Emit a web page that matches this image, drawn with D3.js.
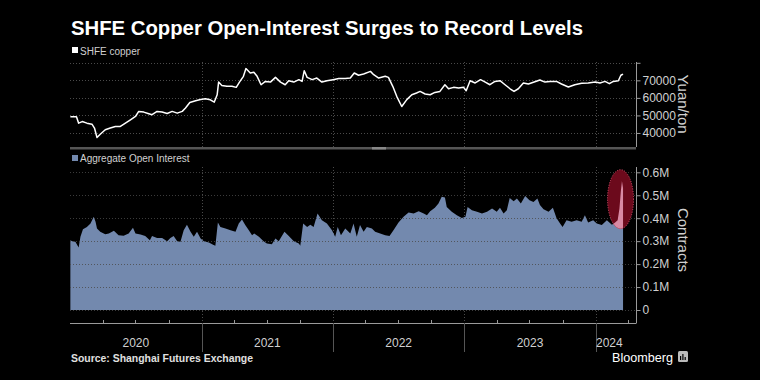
<!DOCTYPE html>
<html>
<head>
<meta charset="utf-8">
<script src="https://cdn.jsdelivr.net/npm/d3@7"></script>
<style>
  html, body { margin: 0; padding: 0; background: #000; }
  svg { display: block; }
</style>
</head>
<body>
<svg id="chart" width="760" height="380"></svg>
<script>
// ---------------- DATA ----------------
const titleText = "SHFE Copper Open-Interest Surges to Record Levels";
const sourceText = "Source: Shanghai Futures Exchange";
const copperLabel = "SHFE copper";
const oiLabel = "Aggregate Open Interest";
const copperAxisTitle = "Yuan/ton";
const oiAxisTitle = "Contracts";

const copperDates = ["2020-01-02","2020-01-19","2020-01-25","2020-02-04","2020-02-17","2020-03-02","2020-03-09","2020-03-16","2020-03-25","2020-04-08","2020-04-22","2020-05-06","2020-05-20","2020-06-03","2020-06-17","2020-07-01","2020-07-10","2020-07-24","2020-08-07","2020-08-16","2020-08-30","2020-09-13","2020-09-27","2020-10-11","2020-10-25","2020-11-08","2020-11-17","2020-11-29","2020-12-15","2020-12-29","2021-01-11","2021-01-25","2021-02-05","2021-02-13","2021-02-17","2021-02-26","2021-03-12","2021-03-26","2021-04-07","2021-04-16","2021-04-27","2021-05-04","2021-05-16","2021-05-26","2021-06-04","2021-06-15","2021-06-27","2021-07-11","2021-07-25","2021-08-08","2021-08-21","2021-08-31","2021-09-14","2021-09-28","2021-10-07","2021-10-13","2021-10-21","2021-11-04","2021-11-17","2021-12-01","2021-12-15","2022-01-01","2022-01-17","2022-02-04","2022-02-18","2022-03-01","2022-03-13","2022-03-27","2022-04-15","2022-04-24","2022-05-08","2022-05-26","2022-06-04","2022-06-16","2022-06-27","2022-07-11","2022-07-25","2022-08-08","2022-08-21","2022-08-31","2022-09-14","2022-09-28","2022-10-11","2022-10-25","2022-11-08","2022-11-18","2022-12-02","2022-12-16","2022-12-30","2023-01-06","2023-01-17","2023-01-31","2023-02-15","2023-02-28","2023-03-13","2023-03-27","2023-04-10","2023-04-24","2023-05-08","2023-05-19","2023-05-31","2023-06-14","2023-06-28","2023-07-12","2023-07-30","2023-08-13","2023-08-27","2023-09-14","2023-09-28","2023-10-17","2023-11-04","2023-11-23","2023-12-11","2023-12-31","2024-01-13","2024-01-27","2024-02-08","2024-02-19","2024-03-04","2024-03-11","2024-03-17"];
const copperValues = [49250,49250,45600,46500,45600,45000,42800,37400,39300,41800,42800,43700,43700,45600,47500,49400,52300,51900,51000,50400,52300,51900,51100,52300,51300,52300,54200,57400,58400,59100,59500,58900,57600,61800,69000,67100,66600,66600,66000,69000,72300,76700,74200,74600,72300,67500,69400,69000,71700,69000,67500,69800,69000,70400,69400,75500,71700,70400,71300,69000,69800,70400,71000,71000,71300,74200,72900,73600,75100,73200,71300,72300,71700,66600,60900,55100,59000,61800,62800,63700,62200,61800,63100,63700,67500,65200,66000,65600,66000,64100,69800,68500,70400,69000,67500,69400,69800,67500,65200,63700,65200,68500,67900,68900,70200,69000,69400,69400,67900,66200,67500,68300,68500,69000,68500,69400,68100,69400,69800,72900,73600];

const oiDates = ["2020-01-02","2020-01-07","2020-01-16","2020-01-25","2020-01-30","2020-02-06","2020-02-17","2020-02-27","2020-03-07","2020-03-12","2020-03-16","2020-03-25","2020-04-08","2020-04-18","2020-05-02","2020-05-15","2020-05-29","2020-06-12","2020-06-24","2020-07-01","2020-07-15","2020-07-28","2020-08-10","2020-08-16","2020-08-30","2020-09-13","2020-09-27","2020-10-06","2020-10-15","2020-10-25","2020-11-03","2020-11-12","2020-11-21","2020-12-01","2020-12-10","2020-12-19","2020-12-29","2021-01-07","2021-01-21","2021-02-03","2021-02-08","2021-02-15","2021-02-22","2021-03-08","2021-03-22","2021-04-05","2021-04-14","2021-04-23","2021-05-02","2021-05-12","2021-05-21","2021-05-27","2021-06-09","2021-06-22","2021-07-01","2021-07-15","2021-07-25","2021-08-03","2021-08-19","2021-08-31","2021-09-14","2021-09-28","2021-10-02","2021-10-10","2021-10-21","2021-10-30","2021-11-08","2021-11-19","2021-12-01","2021-12-15","2021-12-29","2022-01-07","2022-01-14","2022-01-23","2022-02-04","2022-02-18","2022-02-27","2022-03-08","2022-03-17","2022-03-27","2022-04-05","2022-04-19","2022-04-28","2022-05-12","2022-05-26","2022-06-07","2022-06-18","2022-07-02","2022-07-16","2022-07-30","2022-08-13","2022-08-27","2022-09-10","2022-09-19","2022-09-28","2022-10-11","2022-10-21","2022-10-30","2022-11-08","2022-11-13","2022-11-27","2022-12-11","2022-12-25","2023-01-04","2023-01-10","2023-01-22","2023-02-05","2023-02-19","2023-03-05","2023-03-19","2023-04-01","2023-04-10","2023-04-20","2023-04-29","2023-05-07","2023-05-18","2023-05-27","2023-06-07","2023-06-19","2023-07-01","2023-07-12","2023-07-23","2023-07-30","2023-08-09","2023-08-23","2023-09-04","2023-09-14","2023-09-24","2023-10-01","2023-10-12","2023-10-26","2023-11-09","2023-11-23","2023-12-02","2023-12-11","2023-12-25","2024-01-04","2024-01-18","2024-02-01","2024-02-15","2024-02-24","2024-03-02","2024-03-07","2024-03-11","2024-03-14","2024-03-17"];
const oiValues = [304000,300000,297000,272000,319000,352000,362000,377000,406000,384000,355000,341000,330000,333000,345000,326000,323000,333000,358000,333000,329000,322000,304000,322000,314000,314000,300000,314000,322000,300000,297000,348000,372000,341000,319000,341000,312000,300000,294000,283000,280000,381000,362000,355000,348000,341000,377000,394000,370000,348000,326000,333000,319000,300000,290000,286000,312000,300000,341000,322000,300000,290000,280000,377000,362000,372000,362000,420000,391000,377000,348000,319000,362000,326000,355000,333000,377000,319000,370000,341000,362000,355000,341000,333000,326000,322000,348000,381000,406000,425000,420000,430000,420000,413000,430000,445000,464000,493000,490000,449000,428000,413000,401000,406000,449000,435000,428000,420000,428000,442000,428000,445000,420000,435000,488000,474000,486000,464000,497000,478000,471000,486000,457000,439000,428000,445000,401000,377000,362000,391000,384000,391000,384000,413000,381000,391000,377000,370000,391000,372000,381000,391000,442000,520000,562000,530000];

const copperTicks = [40000, 50000, 60000, 70000, 80000];
const copperTickLabels = ["40000", "50000", "60000", "70000", ""];
const oiTicks = [0, 100000, 200000, 300000, 400000, 500000, 600000];
const oiTickLabels = ["0", "0.1M", "0.2M", "0.3M", "0.4M", "0.5M", "0.6M"];
const yearLabels = ["2020", "2021", "2022", "2023", "2024"];
const highlightDate = "2024-03-10";
const highlightValue = 483000;

// ---------------- LAYOUT ----------------
const parse = d3.timeParse("%Y-%m-%d");
const copper = copperDates.map((d, i) => ({ date: parse(d), value: copperValues[i] }));
const oi = oiDates.map((d, i) => ({ date: parse(d), value: oiValues[i] }));

const svg = d3.select("#chart");
const W = 760, H = 380;
const left = 70, right = 636;
const top1 = 62, bottom1 = 147;
const top2 = 167, base2 = 310, axisY = 323;

const x = d3.scaleTime()
  .domain([parse("2020-01-01"), parse("2024-04-22")])
  .range([left, right]);
const y1 = d3.scaleLinear().domain([32000, 80000]).range([bottom1, top1 + 0.8]);
const y2 = d3.scaleLinear().domain([0, 600000]).range([base2, 172.3]);

svg.append("rect").attr("width", W).attr("height", H).attr("fill", "#000");

const font = "'Liberation Sans', Arial, sans-serif";
const gridColor = "#4a4a4a";
const axisColor = "#9a9a9a";
const labelColor = "#d0d0d0";

// Title
svg.append("text")
  .attr("x", 71).attr("y", 35)
  .attr("fill", "#fff")
  .attr("font-family", font)
  .attr("font-weight", "bold")
  .attr("font-size", 19.5)
  .attr("textLength", 512)
  .attr("lengthAdjust", "spacingAndGlyphs")
  .text(titleText);

// Legends
svg.append("rect").attr("x", 72).attr("y", 47).attr("width", 6).attr("height", 6).attr("fill", "#fff");
svg.append("text").attr("x", 80).attr("y", 54.5).attr("fill", labelColor)
  .attr("font-family", font).attr("font-size", 10).text(copperLabel);
svg.append("rect").attr("x", 72).attr("y", 155).attr("width", 6).attr("height", 6).attr("fill", "#7389ae");
svg.append("text").attr("x", 80).attr("y", 162).attr("fill", labelColor)
  .attr("font-family", font).attr("font-size", 10).text(oiLabel);

const yearStarts = yearLabels.map(y => parse(y + "-01-01"));

// ---------- Top panel ----------
const g1 = svg.append("g");
g1.selectAll("line.hgrid").data(copperTicks).enter().append("line")
  .attr("x1", left).attr("x2", right)
  .attr("y1", d => Math.round(y1(d)) + 0.5).attr("y2", d => Math.round(y1(d)) + 0.5)
  .attr("stroke", gridColor).attr("stroke-dasharray", "1,2");
g1.selectAll("line.vgrid").data(yearStarts.slice(1)).enter().append("line")
  .attr("x1", d => Math.round(x(d)) + 0.5).attr("x2", d => Math.round(x(d)) + 0.5)
  .attr("y1", top1).attr("y2", bottom1)
  .attr("stroke", gridColor).attr("stroke-dasharray", "1,2");

const line = d3.line().x(d => x(d.date)).y(d => y1(d.value));
g1.append("path").datum(copper)
  .attr("d", line)
  .attr("fill", "none")
  .attr("stroke", "#fff")
  .attr("stroke-width", 1.5)
  .attr("stroke-linejoin", "round");

// right axis top
const ax1 = d3.axisRight(y1).tickValues(copperTicks)
  .tickFormat((d, i) => copperTickLabels[i]).tickSize(4).tickPadding(2);
const ga1 = svg.append("g").attr("transform", `translate(${right + 0.5},0)`).call(ax1);
ga1.select(".domain").attr("d", `M0,${top1}V${bottom1}`).attr("stroke", axisColor);
ga1.selectAll(".tick line").attr("stroke", axisColor);
ga1.selectAll(".tick text").attr("fill", labelColor).attr("font-family", font).attr("font-size", 12);

svg.append("text")
  .attr("transform", `translate(${678},${104}) rotate(90)`)
  .attr("text-anchor", "middle")
  .attr("fill", labelColor).attr("font-family", font).attr("font-size", 15)
  .text(copperAxisTitle);

// separator
svg.append("rect").attr("x", left).attr("y", bottom1).attr("width", right - left).attr("height", 2.5).attr("fill", "#555");
svg.append("rect").attr("x", 372).attr("y", bottom1).attr("width", 14).attr("height", 2.5).attr("fill", "#888");

// ---------- Bottom panel ----------
const g2 = svg.append("g");
const area = d3.area().x(d => x(d.date)).y0(base2).y1(d => y2(d.value));

g2.selectAll("line.vgrid").data(yearStarts.slice(1)).enter().append("line")
  .attr("x1", d => Math.round(x(d)) + 0.5).attr("x2", d => Math.round(x(d)) + 0.5)
  .attr("y1", top2).attr("y2", axisY)
  .attr("stroke", gridColor).attr("stroke-dasharray", "1,2");

g2.append("path").datum(oi).attr("d", area).attr("fill", "#7389ae");

g2.selectAll("line.hgrid").data(oiTicks).enter().append("line")
  .attr("x1", left).attr("x2", right)
  .attr("y1", d => Math.round(y2(d)) + 0.5).attr("y2", d => Math.round(y2(d)) + 0.5)
  .attr("stroke", gridColor).attr("stroke-dasharray", "1,2")
  .attr("opacity", 0.8);

// Highlight ellipse
const cx = x(parse(highlightDate)), cy = y2(highlightValue);
const defs = svg.append("defs");
defs.append("clipPath").attr("id", "ellClip").append("ellipse")
  .attr("cx", cx).attr("cy", cy).attr("rx", 13).attr("ry", 29.5);
g2.append("ellipse")
  .attr("cx", cx).attr("cy", cy).attr("rx", 13).attr("ry", 29.5)
  .attr("fill", "#6c0a1c");
g2.append("path").datum(oi).attr("d", area)
  .attr("clip-path", "url(#ellClip)")
  .attr("fill", "#d98aa4");
g2.append("ellipse")
  .attr("cx", cx).attr("cy", cy).attr("rx", 13).attr("ry", 29.5)
  .attr("fill", "none").attr("stroke", "#d9506e").attr("stroke-width", 1)
  .attr("stroke-dasharray", "1,1.5");

// right axis bottom
const ax2 = d3.axisRight(y2).tickValues(oiTicks)
  .tickFormat((d, i) => oiTickLabels[i]).tickSize(4).tickPadding(2);
const ga2 = svg.append("g").attr("transform", `translate(${right + 0.5},0)`).call(ax2);
ga2.select(".domain").attr("d", `M0,${top2}V${axisY}`).attr("stroke", axisColor);
ga2.selectAll(".tick line").attr("stroke", axisColor);
ga2.selectAll(".tick text").attr("fill", labelColor).attr("font-family", font).attr("font-size", 12);

svg.append("text")
  .attr("transform", `translate(${678},${240}) rotate(90)`)
  .attr("text-anchor", "middle")
  .attr("fill", labelColor).attr("font-family", font).attr("font-size", 15)
  .text(oiAxisTitle);

// bottom x axis
svg.append("line").attr("x1", left).attr("x2", right + 0.5)
  .attr("y1", axisY + 0.5).attr("y2", axisY + 0.5).attr("stroke", axisColor);
const quarters = d3.timeMonth.every(3).range(parse("2020-01-01"), x.domain()[1])
  .filter(d => d.getMonth() !== 0);
svg.selectAll("line.qtick").data(quarters).enter().append("line")
  .attr("x1", d => Math.round(x(d)) + 0.5).attr("x2", d => Math.round(x(d)) + 0.5)
  .attr("y1", axisY - 3).attr("y2", axisY)
  .attr("stroke", axisColor);
svg.selectAll("line.ytick").data(yearStarts.slice(1)).enter().append("line")
  .attr("x1", d => Math.round(x(d)) + 0.5).attr("x2", d => Math.round(x(d)) + 0.5)
  .attr("y1", axisY).attr("y2", 352)
  .attr("stroke", "#555");

const lastDate = oi[oi.length - 1].date;
svg.selectAll("text.year").data(yearLabels).enter().append("text")
  .attr("x", (d, i) => {
    const s = yearStarts[i];
    const e = i < yearLabels.length - 1 ? yearStarts[i + 1] : lastDate;
    return (x(s) + x(e)) / 2;
  })
  .attr("y", 347)
  .attr("text-anchor", "middle")
  .attr("fill", labelColor).attr("font-family", font).attr("font-size", 12)
  .text(d => d);

// Source and Bloomberg
svg.append("text").attr("x", 71).attr("y", 362)
  .attr("fill", "#e0e0e0").attr("font-family", font).attr("font-weight", "bold")
  .attr("font-size", 10).attr("textLength", 182).attr("lengthAdjust", "spacingAndGlyphs")
  .text(sourceText);
svg.append("text").attr("x", 612).attr("y", 362)
  .attr("fill", "#fff").attr("font-family", font).attr("font-size", 13)
  .attr("textLength", 61).attr("lengthAdjust", "spacingAndGlyphs")
  .text("Bloomberg");
const logo = svg.append("g").attr("transform", "translate(678,351)");
logo.append("rect").attr("width", 10).attr("height", 11).attr("rx", 1.5).attr("fill", "#bbb");
[[2, 5, 1.2], [4.3, 3, 1.2], [6.6, 6, 1.2]].forEach(b => {
  logo.append("rect").attr("x", b[0]).attr("y", b[1]).attr("width", b[2]).attr("height", 9 - b[1]).attr("fill", "#000");
});
</script>
</body>
</html>
